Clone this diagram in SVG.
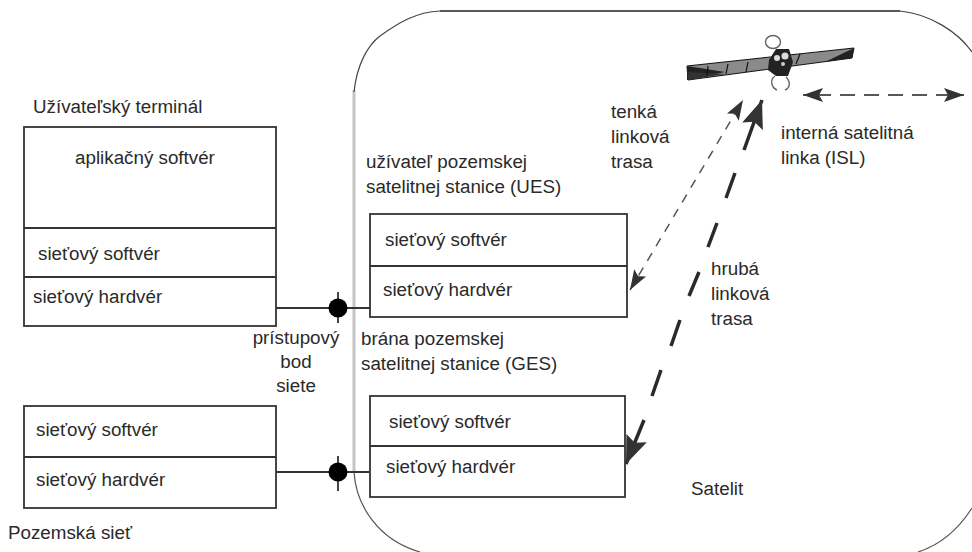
<svg xmlns="http://www.w3.org/2000/svg" width="972" height="552" viewBox="0 0 972 552">
<style>
text{font-family:"Liberation Sans",Arial,sans-serif;font-size:18.8px;fill:#2a2a2a}
.b{fill:#fff;stroke:#333;stroke-width:1.8}
.l{fill:none;stroke:#333;stroke-width:1.8}
</style>
<defs>
<marker id="thin" markerUnits="userSpaceOnUse" markerWidth="22" markerHeight="16" refX="20" refY="7" orient="auto-start-reverse"><path d="M0 0L20 7L0 14L4 7Z" fill="#333"/></marker>
<marker id="thick" markerUnits="userSpaceOnUse" markerWidth="30" markerHeight="24" refX="28" refY="11" orient="auto"><path d="M0 0L28 11L0 22L5 11Z" fill="#333"/></marker>
<filter id="soft" x="-5%" y="-5%" width="110%" height="110%"><feGaussianBlur stdDeviation="0.5"/></filter>
</defs>
<rect width="972" height="552" fill="#fff"/>
<g id="satelit-frame">
<path d="M354 472C356 505 378 540 420 552" fill="none" stroke="#555" stroke-width="1.2"/>
<path d="M354 472V90" fill="none" stroke="#c4c4c4" stroke-width="3"/>
<path d="M354 92C357 64 368 45 380 36C398 23 416 12 440 11" fill="none" stroke="#444" stroke-width="1.2"/>
<path d="M440 11H900" fill="none" stroke="#222" stroke-width="1.6"/>
<path d="M900 11C930 14 958 32 972 52" fill="none" stroke="#444" stroke-width="1.2"/>
<path d="M972 508C958 530 940 545 918 552" fill="none" stroke="#555" stroke-width="1.2"/>
</g>
<g id="connectors">
<path class="l" d="M276 308H370M276 472H370"/>
<path class="l" d="M338 292V323M338 456V491"/>
<circle cx="338" cy="308" r="9.5" fill="#000"/>
<circle cx="338" cy="472" r="9.5" fill="#000"/>
<path d="M630 290L743 100" fill="none" stroke="#555" stroke-width="1.5" stroke-dasharray="9 8" marker-start="url(#thin)" marker-end="url(#thin)"/>
<path d="M735 173L726 198M717 223L708 247M699 272L689 296M680 320L671 346M661 370L652 396" fill="none" stroke="#2a2a2a" stroke-width="3.5"/>
<path d="M644 420L626 464" fill="none" stroke="#2a2a2a" stroke-width="3.5" marker-end="url(#thick)"/>
<path d="M744 150L762 100" fill="none" stroke="#2a2a2a" stroke-width="3.5" marker-end="url(#thick)"/>
<path d="M803 95H964" fill="none" stroke="#222" stroke-width="1.5" stroke-dasharray="15 9" stroke-dashoffset="-13" marker-start="url(#thin)" marker-end="url(#thin)"/>
</g>
<g id="satellite" filter="url(#soft)">
<path d="M687 66L854 48L852 58L688 80Z" fill="#8a8a8a" stroke="#111" stroke-width="1"/>
<path d="M687 66L725 72L687 80Z" fill="#222"/>
<path d="M725 74L688 80V72Z" fill="#333"/>
<path d="M854 48L825 62L852 58Z" fill="#222"/>
<path d="M708 66L707 76M728 64L726 74M748 62L746 72M800 54L796 64" stroke="#111" stroke-width="1.2" fill="none"/>
<path d="M769 60L776 49H789L793 62L788 76H776L768 70Z" fill="#222"/>
<circle cx="777" cy="58" r="3" fill="#ddd"/><circle cx="785" cy="56" r="3.5" fill="#ddd"/><circle cx="783" cy="64" r="2" fill="#ccc"/>
<ellipse cx="773" cy="42" rx="7.5" ry="6.5" fill="none" stroke="#666" stroke-width="1.4"/>
<path d="M775 76C769 80 772 88 777 90M786 77C791 82 790 88 785 90" fill="none" stroke="#666" stroke-width="1.4"/>
</g>
<g id="uzivatelsky-terminal">
<rect class="b" x="24" y="127" width="252" height="199"/>
<path class="l" d="M24 228H276M24 277H276"/>
<text x="33" y="113">Užívateľský terminál</text>
<text x="75" y="164">aplikačný softvér</text>
<text x="38" y="260">sieťový softvér</text>
<text x="33" y="303">sieťový hardvér</text>
</g>
<g id="pozemska-siet">
<rect class="b" x="24" y="406" width="252" height="102"/>
<path class="l" d="M24 457H276"/>
<text x="36" y="436">sieťový softvér</text>
<text x="36" y="486">sieťový hardvér</text>
<text x="8" y="539">Pozemská sieť</text>
</g>
<g id="ues">
<rect class="b" x="370" y="214" width="257" height="103"/>
<path class="l" d="M370 266H627"/>
<text x="385" y="246">sieťový softvér</text>
<text x="383" y="296">sieťový hardvér</text>
<text x="366" y="168">užívateľ pozemskej</text>
<text x="366" y="193">satelitnej stanice (UES)</text>
</g>
<g id="ges">
<rect class="b" x="370" y="396" width="255" height="101"/>
<path class="l" d="M370 446H625"/>
<text x="389" y="428">sieťový softvér</text>
<text x="386" y="473">sieťový hardvér</text>
<text x="361" y="345">brána pozemskej</text>
<text x="361" y="370">satelitnej stanice (GES)</text>
</g>
<g id="labels">
<text x="296" y="344" text-anchor="middle">prístupový</text>
<text x="296" y="368" text-anchor="middle">bod</text>
<text x="296" y="392" text-anchor="middle">siete</text>
<text x="611" y="118">tenká</text>
<text x="611" y="143">linková</text>
<text x="611" y="168">trasa</text>
<text x="711" y="275">hrubá</text>
<text x="711" y="300">linková</text>
<text x="711" y="325">trasa</text>
<text x="781" y="139">interná satelitná</text>
<text x="781" y="164">linka (ISL)</text>
<text x="691" y="495">Satelit</text>
</g>
</svg>
